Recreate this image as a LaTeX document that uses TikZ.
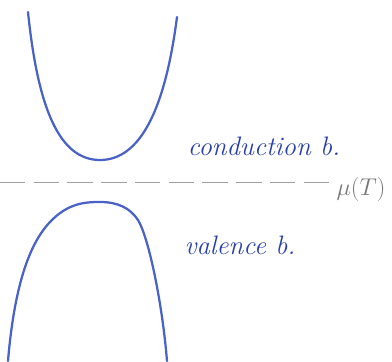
\documentclass[tikz,border=0pt]{standalone}
\usepackage{xcolor}
\usepackage{tikz}
\definecolor{penblue}{RGB}{72,98,200}
\definecolor{inkblue}{RGB}{40,62,170}
\definecolor{pencil}{RGB}{120,120,120}
\tikzset{
  band/.style={line width=1.6pt,draw=penblue,line cap=round,line join=round},
  fermi/.style={line width=.6pt,draw=pencil!70,dash pattern=on 18pt off 6pt},
  bLabel/.style={font=\fontsize{19}{22}\selectfont\itshape,text=inkblue,inner sep=1pt},
  muLabel/.style={font=\fontsize{18}{21}\selectfont,text=pencil,inner sep=1pt},
}
\begin{document}
\begin{tikzpicture}[x=0.025cm,y=-0.025cm]
\useasboundingbox (0,0) rectangle (392,361);
% conduction band
\draw[band] (28,12) .. controls (38,110) and (60,160) .. (100,160)
  .. controls (140,160) and (165,110) .. (177,17);
% valence band
\draw[band] (8,361) .. controls (14,290) and (28,245) .. (50,222)
  .. controls (68,203) and (85,202) .. (100,202)
  .. controls (118,202) and (130,208) .. (138,220)
  .. controls (148,236) and (162,300) .. (167,361);
\node[bLabel] (cb) at (264,146) {conduction b.};
\node[bLabel] (vb) at (240,245) {valence b.};
\node[muLabel] (mu) at (361,189) {$\mu(T)$};
\coordinate (lft) at (0,182);
\draw[fermi] (lft) -- (mu.west |- lft);
\end{tikzpicture}
\end{document}
